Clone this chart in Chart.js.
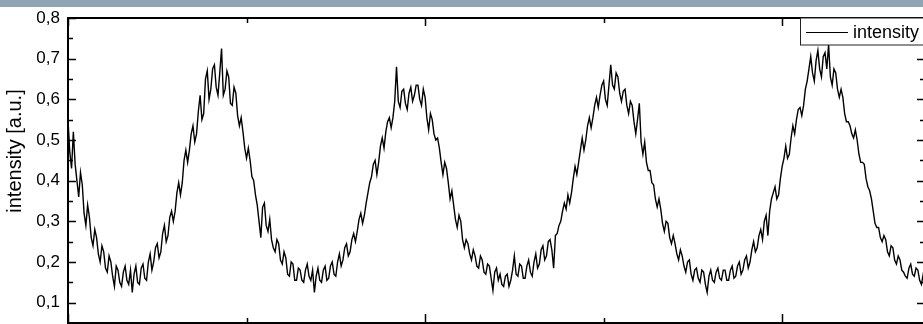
<!DOCTYPE html>
<html>
<head>
<meta charset="utf-8">
<script src="https://cdn.jsdelivr.net/npm/chart.js@4/dist/chart.umd.min.js"></script>
<style>
  html, body { margin: 0; padding: 0; background: #fff; overflow: hidden; }
  #bar { position: absolute; left: 0; top: 0; width: 923px; height: 7px; background: #8fa5b5; }
  #wrap { position: absolute; left: 0; top: 0; width: 930px; height: 324px; }
</style>
</head>
<body>
<div id="wrap"><canvas id="chart" width="930" height="324"></canvas></div>
<div id="bar"></div>
<script>
// samples sit on an even grid (xStep per sample)
const xStart = 0;
const xStep = 0.5;
const intensity = [
  0.55, 0.47, 0.43, 0.52, 0.44, 0.40, 0.36, 0.42, 0.39, 0.32,
  0.29, 0.34, 0.31, 0.26, 0.24, 0.28, 0.26, 0.22, 0.20, 0.24,
  0.225, 0.185, 0.175, 0.215, 0.20, 0.165, 0.14, 0.19, 0.18, 0.15,
  0.14, 0.175, 0.19, 0.155, 0.145, 0.18, 0.125, 0.17, 0.19, 0.15,
  0.145, 0.185, 0.195, 0.16, 0.155, 0.20, 0.22, 0.18, 0.20, 0.235,
  0.245, 0.21, 0.225, 0.27, 0.29, 0.25, 0.265, 0.31, 0.325, 0.30,
  0.325, 0.37, 0.395, 0.365, 0.395, 0.45, 0.475, 0.445, 0.475, 0.515,
  0.535, 0.495, 0.515, 0.57, 0.61, 0.55, 0.565, 0.65, 0.67, 0.60,
  0.625, 0.675, 0.685, 0.63, 0.61, 0.665, 0.725, 0.61, 0.625, 0.67,
  0.655, 0.59, 0.585, 0.63, 0.615, 0.56, 0.535, 0.555, 0.52, 0.48,
  0.455, 0.48, 0.45, 0.41, 0.40, 0.365, 0.34, 0.30, 0.26, 0.335,
  0.345, 0.29, 0.275, 0.305, 0.255, 0.235, 0.225, 0.255, 0.245, 0.205,
  0.195, 0.225, 0.21, 0.17, 0.165, 0.20, 0.195, 0.155, 0.155, 0.185,
  0.18, 0.155, 0.15, 0.18, 0.195, 0.165, 0.155, 0.18, 0.125, 0.165,
  0.185, 0.155, 0.15, 0.18, 0.19, 0.155, 0.16, 0.19, 0.20, 0.17,
  0.165, 0.20, 0.22, 0.19, 0.205, 0.235, 0.245, 0.215, 0.225, 0.255,
  0.27, 0.25, 0.275, 0.305, 0.32, 0.295, 0.315, 0.345, 0.37, 0.395,
  0.41, 0.44, 0.45, 0.415, 0.445, 0.485, 0.505, 0.48, 0.52, 0.545,
  0.555, 0.53, 0.555, 0.595, 0.68, 0.595, 0.58, 0.62, 0.625, 0.59,
  0.575, 0.615, 0.63, 0.595, 0.61, 0.635, 0.635, 0.60, 0.585, 0.625,
  0.605, 0.555, 0.525, 0.565, 0.55, 0.515, 0.50, 0.505, 0.48, 0.445,
  0.415, 0.445, 0.43, 0.395, 0.355, 0.375, 0.34, 0.305, 0.285, 0.315,
  0.30, 0.255, 0.235, 0.255, 0.245, 0.22, 0.205, 0.23, 0.215, 0.19,
  0.185, 0.215, 0.205, 0.175, 0.17, 0.195, 0.19, 0.16, 0.13, 0.175,
  0.185, 0.155, 0.17, 0.145, 0.14, 0.165, 0.17, 0.14, 0.155, 0.18,
  0.215, 0.17, 0.165, 0.195, 0.19, 0.16, 0.16, 0.19, 0.205, 0.175,
  0.165, 0.20, 0.22, 0.185, 0.195, 0.23, 0.24, 0.205, 0.215, 0.25,
  0.255, 0.23, 0.185, 0.265, 0.27, 0.29, 0.30, 0.325, 0.345, 0.33,
  0.365, 0.345, 0.37, 0.405, 0.435, 0.415, 0.445, 0.475, 0.505, 0.475,
  0.50, 0.535, 0.555, 0.53, 0.555, 0.585, 0.605, 0.58, 0.61, 0.635,
  0.645, 0.60, 0.585, 0.635, 0.685, 0.635, 0.625, 0.665, 0.655, 0.615,
  0.595, 0.62, 0.625, 0.585, 0.565, 0.595, 0.585, 0.545, 0.515, 0.55,
  0.59, 0.495, 0.465, 0.495, 0.445, 0.425, 0.425, 0.395, 0.39, 0.355,
  0.335, 0.355, 0.33, 0.295, 0.275, 0.30, 0.295, 0.26, 0.245, 0.265,
  0.245, 0.22, 0.205, 0.23, 0.215, 0.19, 0.175, 0.20, 0.205, 0.17,
  0.155, 0.18, 0.185, 0.16, 0.15, 0.18, 0.175, 0.145, 0.125, 0.165,
  0.18, 0.155, 0.15, 0.175, 0.185, 0.16, 0.155, 0.18, 0.18, 0.155,
  0.155, 0.18, 0.19, 0.16, 0.165, 0.19, 0.20, 0.17, 0.18, 0.205,
  0.215, 0.185, 0.20, 0.23, 0.25, 0.225, 0.235, 0.265, 0.28, 0.255,
  0.30, 0.315, 0.265, 0.325, 0.355, 0.37, 0.385, 0.355, 0.365, 0.405,
  0.435, 0.455, 0.485, 0.455, 0.465, 0.505, 0.535, 0.515, 0.55, 0.575,
  0.58, 0.56, 0.585, 0.625, 0.645, 0.675, 0.705, 0.665, 0.645, 0.695,
  0.72, 0.675, 0.655, 0.705, 0.715, 0.675, 0.735, 0.655, 0.635, 0.675,
  0.665, 0.625, 0.605, 0.625, 0.605, 0.565, 0.545, 0.545, 0.535, 0.515,
  0.505, 0.525, 0.50, 0.465, 0.445, 0.445, 0.44, 0.405, 0.385, 0.375,
  0.355, 0.325, 0.295, 0.285, 0.285, 0.26, 0.25, 0.265, 0.255, 0.225,
  0.215, 0.24, 0.235, 0.205, 0.195, 0.215, 0.205, 0.18, 0.175, 0.165,
  0.16, 0.185, 0.195, 0.17, 0.165, 0.185, 0.18, 0.155, 0.145, 0.17,
  0.16
];

// axis ticks
const yTicks = [0.1, 0.2, 0.3, 0.4, 0.5, 0.6, 0.7, 0.8];
const yTickLabels = ['0,1', '0,2', '0,3', '0,4', '0,5', '0,6', '0,7', '0,8'];
const yMinorTicks = [0.15, 0.25, 0.35, 0.45, 0.55, 0.65, 0.75];
const xTicks = [0, 100, 200];
const xMinorTicks = [50, 150];

const points = intensity.map((v, i) => ({ x: xStart + i * xStep, y: v }));
const FONT = 'Arial, "Liberation Sans", sans-serif';

// frame, inward tick marks, axis title and boxed legend
const framePlugin = {
  id: 'frame',
  afterDraw(chart) {
    const { ctx, chartArea: a, scales } = chart;
    const xs = scales.x, ys = scales.y;
    ctx.save();
    ctx.strokeStyle = '#000';
    ctx.lineWidth = 1.5;
    yTicks.forEach(v => {
      const y = Math.round(ys.getPixelForValue(v)) + 0.5;
      ctx.beginPath();
      ctx.moveTo(a.left, y); ctx.lineTo(a.left + 8, y);
      ctx.moveTo(a.right, y); ctx.lineTo(a.right - 8, y);
      ctx.stroke();
    });
    yMinorTicks.forEach(v => {
      const y = Math.round(ys.getPixelForValue(v)) + 0.5;
      ctx.beginPath();
      ctx.moveTo(a.left, y); ctx.lineTo(a.left + 5, y);
      ctx.moveTo(a.right, y); ctx.lineTo(a.right - 5, y);
      ctx.stroke();
    });
    xTicks.forEach(v => {
      const x = Math.round(xs.getPixelForValue(v)) + 0.5;
      ctx.beginPath();
      ctx.moveTo(x, a.bottom); ctx.lineTo(x, a.bottom - 9);
      ctx.moveTo(x, a.top); ctx.lineTo(x, a.top + 8);
      ctx.stroke();
    });
    xMinorTicks.forEach(v => {
      const x = Math.round(xs.getPixelForValue(v)) + 0.5;
      ctx.beginPath();
      ctx.moveTo(x, a.bottom); ctx.lineTo(x, a.bottom - 5);
      ctx.moveTo(x, a.top); ctx.lineTo(x, a.top + 5);
      ctx.stroke();
    });
    ctx.lineWidth = 2;
    ctx.strokeRect(a.left, a.top, a.right - a.left, a.bottom - a.top);

    // y axis title
    ctx.save();
    ctx.translate(15, 151);
    ctx.rotate(-Math.PI / 2);
    ctx.fillStyle = '#000';
    ctx.font = '20px ' + FONT;
    ctx.textAlign = 'center';
    ctx.textBaseline = 'middle';
    ctx.fillText('intensity [a.u.]', 0, 0);
    ctx.restore();

    // legend box
    const bx = 800.5, by = a.top, bw = 140, bh = 27;
    ctx.fillStyle = '#fff';
    ctx.fillRect(bx, by, bw, bh);
    ctx.lineWidth = 1;
    ctx.strokeStyle = '#222';
    ctx.strokeRect(bx, by, bw, bh);
    ctx.strokeStyle = '#000';
    ctx.beginPath();
    ctx.moveTo(806, 32.5); ctx.lineTo(848, 32.5);
    ctx.stroke();
    ctx.fillStyle = '#000';
    ctx.font = '18px ' + FONT;
    ctx.textBaseline = 'alphabetic';
    ctx.fillText(chart.data.datasets[0].label, 853, 38);
    ctx.restore();
  }
};

new Chart(document.getElementById('chart'), {
  type: 'line',
  data: {
    datasets: [{
      label: 'intensity',
      data: points,
      borderColor: '#000',
      borderWidth: 1.4,
      pointRadius: 0,
      tension: 0,
      fill: false
    }]
  },
  options: {
    responsive: false,
    animation: false,
    layout: { padding: { top: 18, bottom: 1, right: 5, left: 0 } },
    plugins: { legend: { display: false }, tooltip: { enabled: false } },
    scales: {
      x: {
        type: 'linear',
        display: false,
        min: 0,
        max: 240
      },
      y: {
        min: 0.05,
        max: 0.8,
        afterBuildTicks: s => { s.ticks = yTicks.map(v => ({ value: v })); },
        ticks: {
          color: '#000',
          padding: 8,
          font: { family: FONT, size: 17 },
          callback: v => yTickLabels[yTicks.findIndex(t => Math.abs(t - v) < 1e-6)]
        },
        grid: { display: false, drawTicks: false },
        border: { display: false },
        afterFit: s => {
          s.width = 68;
          s.paddingTop = 0;
          s.paddingBottom = 0;
        }
      }
    }
  },
  plugins: [framePlugin]
});
</script>
</body>
</html>
